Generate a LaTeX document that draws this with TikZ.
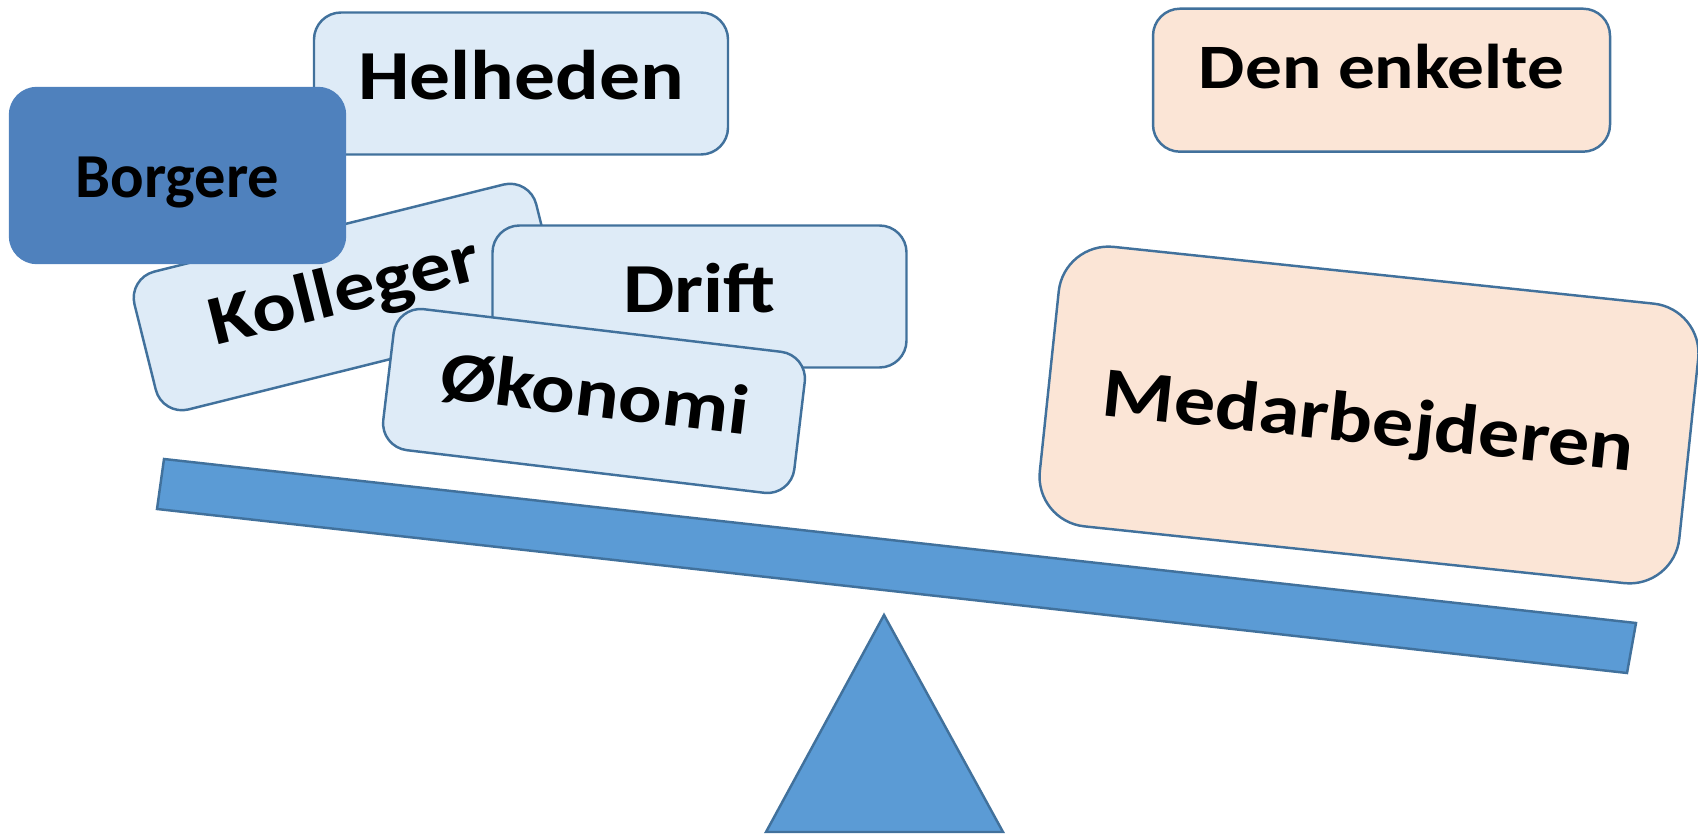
\documentclass[tikz,border=0pt]{standalone}
\usepackage{fontspec}
\usepackage{tikz}
\newfontfamily\cardfont[FakeStretch=1.16]{Carlito}
\newfontfamily\plainfont{Carlito}

\definecolor{lineblue}{HTML}{41719C}
\definecolor{paleblue}{HTML}{DEEBF7}
\definecolor{beamblue}{HTML}{5B9BD5}
\definecolor{deepblue}{HTML}{4F81BD}
\definecolor{palepeach}{HTML}{FBE5D6}

\tikzset{
  card/.style={draw=lineblue, line width=0.7pt, inner sep=0pt, rounded corners=0.27cm},
  bluecard/.style={card, fill=paleblue, minimum width=4.14cm, minimum height=1.42cm,
    text height=14pt, text depth=5pt, font=\cardfont\bfseries\fontsize{20pt}{24pt}\selectfont},
  peachcard/.style={card, fill=palepeach},
  beam/.style={draw=lineblue, line width=0.7pt, fill=beamblue}
}

\begin{document}
\begin{tikzpicture}
\useasboundingbox (0,0) rectangle (16.98,8.34);

\node [bluecard] (helheden) at (5.21,7.505) {Helheden};
\node [bluecard, rotate=14] (kolleger) at (3.46,5.37) {Kolleger};
\node [card, fill=deepblue, draw=deepblue, minimum width=3.35cm, minimum height=1.75cm,
  text height=12.4pt, text depth=0pt, font=\plainfont\bfseries\fontsize{17.8pt}{21pt}\selectfont] (borgere) at (1.775,6.585) {Borgere};
\node [bluecard] (drift) at (6.995,5.375) {Drift};
\node [bluecard, rotate=-6.8] (okonomi) at (5.94,4.33) {Økonomi};

\node [peachcard, minimum width=4.57cm, minimum height=1.43cm, text height=10pt, text depth=5pt,
  font=\cardfont\bfseries\fontsize{18pt}{22pt}\selectfont] (enkelte) at (13.815,7.538) {Den enkelte};
\node [peachcard, rounded corners=0.5cm, rotate=-6, minimum width=6.43cm, minimum height=2.81cm,
  text height=16.2pt, text depth=0pt, font=\cardfont\bfseries\fontsize{20.2pt}{24pt}\selectfont] (medarb) at (13.69,4.19) {Medarbejderen};

\coordinate (b1) at (1.64,3.75);
\coordinate (b2) at (16.36,2.11);
\coordinate (b3) at (16.27,1.61);
\coordinate (b4) at (1.57,3.25);
\draw [beam] (b1) -- (b2) -- (b3) -- (b4) -- cycle;

\coordinate (t1) at (8.84,2.19);
\coordinate (t2) at (10.03,0.02);
\coordinate (t3) at (7.66,0.02);
\draw [beam] (t1) -- (t2) -- (t3) -- cycle;
\end{tikzpicture}
\end{document}
